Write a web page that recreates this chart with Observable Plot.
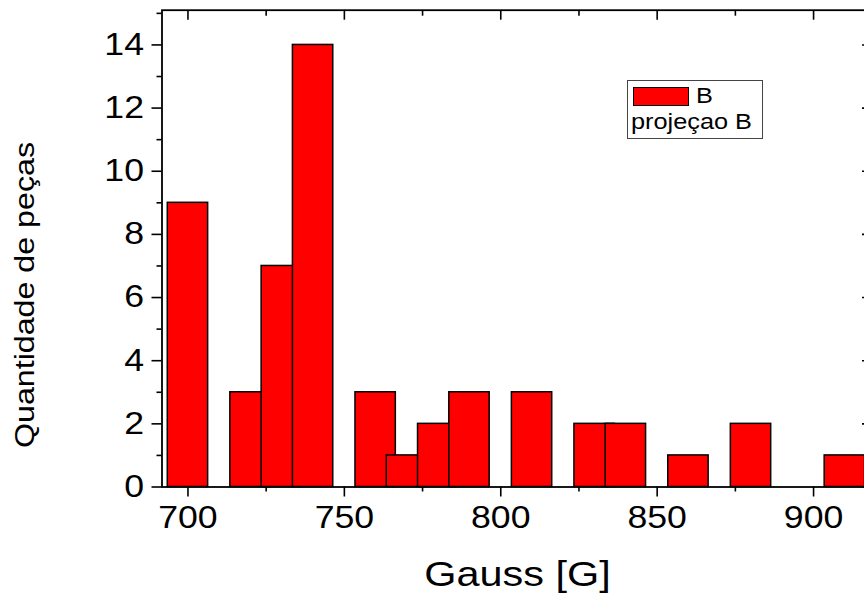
<!DOCTYPE html>
<html>
<head>
<meta charset="utf-8">
<script src="https://cdn.jsdelivr.net/npm/d3@7"></script>
<script src="https://cdn.jsdelivr.net/npm/@observablehq/plot@0.6"></script>
<style>
html, body { margin: 0; padding: 0; background: #fff; overflow: hidden; }
#wrap { position: relative; width: 864px; height: 595px; overflow: hidden; background: #fff;
        font-family: "Liberation Sans", Arial, sans-serif; color: #000; }
#wrap svg { position: absolute; left: 0; top: 0; }
.legend-box { position: absolute; left: 627px; top: 80px; width: 136px; height: 59px;
              box-sizing: border-box; border: 1px solid #444; background: #fff; }
.legend-swatch { position: absolute; left: 632.5px; top: 86.5px; width: 56px; height: 19.5px;
                 box-sizing: border-box; border: 1.5px solid #000; background: #ff0000; }
.legend-text { position: absolute; font-size: 22px; line-height: 22px; white-space: nowrap;
               transform: scaleX(1.15); transform-origin: left top; }
</style>
</head>
<body>
<div id="wrap"></div>
<script>
// ---- data ----
const gauss = [700, 720, 730, 740, 760, 770, 780, 790, 810, 830, 840, 860, 880, 910];
const pecas = [9, 3, 7, 14, 3, 1, 2, 3, 3, 2, 2, 1, 2, 1];
const xMajorTicks = [700, 750, 800, 850, 900];
const xMinorTicks = [725, 775, 825, 875];
const yMajorTicks = [0, 2, 4, 6, 8, 10, 12, 14];
const yMinorTicks = [1, 3, 5, 7, 9, 11, 13, 15];
const legendLabels = ["B", "projeçao B"];
const xLabel = "Gauss [G]";
const yLabel = "Quantidade de peças";

const data = gauss.map((g, i) => ({gauss: g, pecas: pecas[i]}));
const halfWidth = 6.45;
const stretch = 1.15;
const blank = () => "";
const axisStroke = 1.6;

const chart = Plot.plot({
  width: 880,
  height: 595,
  marginLeft: 161.5,
  marginRight: 10,
  marginTop: 9.7,
  marginBottom: 108.5,
  style: {fontFamily: '"Liberation Sans", Arial, sans-serif', background: "white", color: "black", maxWidth: "none", overflow: "visible"},
  x: {domain: [691.7, 918.2]},
  y: {domain: [0, 15.1]},
  marks: [
    Plot.rect(data, {x1: d => d.gauss - halfWidth, x2: d => d.gauss + halfWidth, y1: 0, y2: "pecas",
                     fill: "#ff0000", stroke: "black", strokeWidth: 1.5}),
    Plot.frame({stroke: "black", strokeWidth: 1.8}),
    Plot.axisX(xMajorTicks, {anchor: "bottom", tickSize: 10, tickPadding: 8.5, fontSize: 31,
                             tickFormat: d => String(d), strokeWidth: axisStroke,
                             label: xLabel, labelAnchor: "center", labelArrow: "none"}),
    Plot.axisX(xMinorTicks, {anchor: "bottom", tickSize: 5, tickFormat: blank, strokeWidth: axisStroke, label: null}),
    Plot.axisX(xMajorTicks, {anchor: "top", tickSize: -9, tickFormat: blank, strokeWidth: axisStroke, label: null}),
    Plot.axisX(xMinorTicks, {anchor: "top", tickSize: -5, tickFormat: blank, strokeWidth: axisStroke, label: null}),
    Plot.axisY(yMajorTicks, {anchor: "left", tickSize: 10, tickPadding: 8, fontSize: 31,
                             tickFormat: d => String(d), strokeWidth: axisStroke,
                             label: yLabel, labelAnchor: "center", labelArrow: "none"}),
    Plot.axisY(yMinorTicks, {anchor: "left", tickSize: 5, tickFormat: blank, strokeWidth: axisStroke, label: null}),
    Plot.axisY(yMajorTicks, {anchor: "right", tickSize: -9, tickFormat: blank, strokeWidth: axisStroke, label: null}),
    Plot.axisY(yMinorTicks, {anchor: "right", tickSize: -5, tickFormat: blank, strokeWidth: axisStroke, label: null})
  ]
});

const svg = chart;
// tick label sizes
svg.querySelectorAll('g[aria-label="x-axis tick label"], g[aria-label="y-axis tick label"]').forEach(g => {
  g.setAttribute("font-size", 31);
  g.setAttribute("fill", "black");
});

// place axis titles
function placeLabel(sel, x, y, rot, size) {
  const g = svg.querySelector(sel);
  if (!g) return;
  g.removeAttribute("transform");
  g.setAttribute("text-anchor", "middle");
  g.setAttribute("font-size", size);
  g.setAttribute("fill", "black");
  const t = g.querySelector("text");
  ["dy", "x", "y"].forEach(a => t.removeAttribute(a));
  t.setAttribute("text-anchor", "middle");
  t.setAttribute("transform", `translate(${x},${y})${rot ? ` rotate(${rot})` : ""}`);
}
placeLabel('g[aria-label="x-axis label"]', 517.5, 585.5, 0, 36);
placeLabel('g[aria-label="y-axis label"]', 33.5, 295, -90, 28);

// widen glyphs like the reference rendering (x/y attributes stay in local coords)
svg.querySelectorAll("text").forEach(t => {
  const tr = t.getAttribute("transform") || "";
  t.setAttribute("transform", `${tr} scale(${stretch},1)`.trim());
});

const wrap = document.getElementById("wrap");
wrap.appendChild(svg);

// legend
const box = document.createElement("div");
box.className = "legend-box";
wrap.appendChild(box);
const sw = document.createElement("div");
sw.className = "legend-swatch";
wrap.appendChild(sw);
const t1 = document.createElement("span");
t1.className = "legend-text";
t1.textContent = legendLabels[0];
t1.style.left = "696px"; t1.style.top = "85px";
wrap.appendChild(t1);
const t2 = document.createElement("span");
t2.className = "legend-text";
t2.textContent = legendLabels[1];
t2.style.left = "631px"; t2.style.top = "111.4px";
wrap.appendChild(t2);
</script>
</body>
</html>
